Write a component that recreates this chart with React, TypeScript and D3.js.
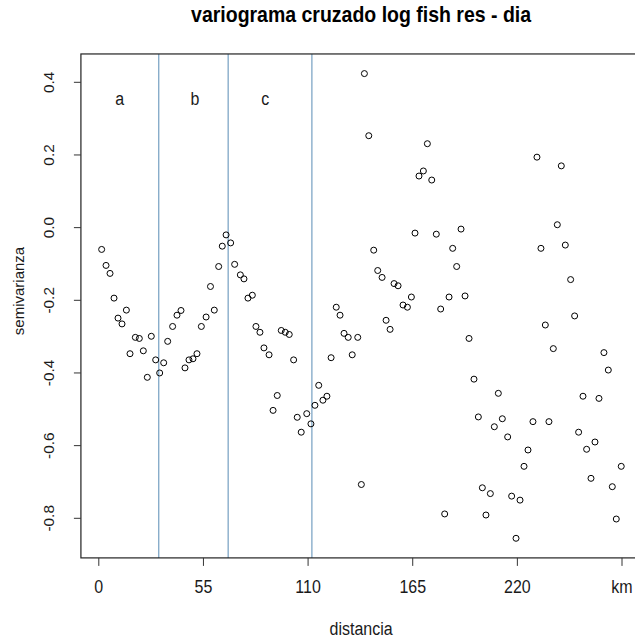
import React from "react";
import * as d3 from "d3";

const distances = [1.5, 3.8, 5.9, 8.0, 10.1, 12.2, 14.5, 16.4, 19.2, 21.3, 23.4, 25.5, 27.6, 29.9, 32.0, 34.1, 36.2, 38.8, 41.1, 43.2, 45.3, 47.4, 49.5, 51.6, 53.9, 56.4, 58.7, 60.7, 63.0, 64.9, 66.9, 69.3, 71.4, 74.4, 76.3, 78.4, 80.7, 82.6, 84.7, 86.8, 89.5, 91.6, 93.8, 95.9, 98.0, 100.1, 102.4, 104.3, 106.4, 109.3, 111.5, 113.6, 115.6, 117.8, 119.9, 122.1, 124.8, 126.8, 128.9, 131.1, 133.2, 136.1, 138.0, 139.6, 141.9, 144.5, 146.6, 148.9, 151.0, 153.1, 155.2, 157.3, 159.9, 162.2, 164.3, 166.2, 168.3, 170.6, 172.7, 175.0, 177.4, 179.7, 181.8, 184.1, 186.0, 188.1, 190.4, 192.5, 194.6, 197.2, 199.5, 201.6, 203.5, 205.8, 207.9, 210.0, 212.1, 214.9, 217.0, 219.3, 221.4, 223.5, 225.6, 228.2, 230.3, 232.4, 234.7, 236.6, 238.9, 241.0, 243.1, 245.2, 248.0, 250.1, 252.2, 254.5, 256.4, 258.7, 260.8, 262.9, 265.5, 267.8, 269.9, 272.0, 274.6];

const semivariance = [-0.060, -0.104, -0.126, -0.194, -0.249, -0.265, -0.227, -0.347, -0.302, -0.305, -0.339, -0.412, -0.299, -0.364, -0.400, -0.372, -0.313, -0.272, -0.241, -0.228, -0.386, -0.364, -0.361, -0.347, -0.272, -0.246, -0.162, -0.227, -0.107, -0.051, -0.020, -0.042, -0.101, -0.130, -0.141, -0.194, -0.186, -0.272, -0.288, -0.331, -0.350, -0.503, -0.462, -0.283, -0.288, -0.294, -0.364, -0.522, -0.563, -0.512, -0.540, -0.489, -0.434, -0.475, -0.464, -0.358, -0.219, -0.241, -0.291, -0.302, -0.350, -0.302, -0.707, 0.424, 0.253, -0.062, -0.118, -0.137, -0.255, -0.280, -0.154, -0.160, -0.213, -0.219, -0.191, -0.015, 0.142, 0.156, 0.231, 0.131, -0.018, -0.224, -0.788, -0.191, -0.057, -0.107, -0.004, -0.188, -0.305, -0.417, -0.521, -0.716, -0.791, -0.732, -0.548, -0.456, -0.526, -0.576, -0.739, -0.855, -0.750, -0.657, -0.612, -0.534, 0.194, -0.057, -0.268, -0.534, -0.333, 0.008, 0.170, -0.048, -0.143, -0.243, -0.563, -0.464, -0.610, -0.690, -0.590, -0.470, -0.344, -0.392, -0.713, -0.802, -0.657];

const xTicks = [0, 55, 110, 165, 220, 275];
const xTickLabels = ["0", "55", "110", "165", "220", "km"];
const yTicks = [-0.8, -0.6, -0.4, -0.2, 0.0, 0.2, 0.4];
const yTickLabels = ["-0.8", "-0.6", "-0.4", "-0.2", "0.0", "0.2", "0.4"];
const cutLines = [31.5, 68, 112];
const zoneLabels = ["a", "b", "c"];
const zoneLabelX = [11, 50.5, 87.5];
const zoneLabelY = 0.35;

const title = "variograma cruzado log fish res - dia";
const xTitle = "distancia";
const yTitle = "semivarianza";

export default function App() {
  const W = 635;
  const H = 638;
  const x = d3.scaleLinear().domain([0, 275]).range([98.8, 622]);
  const y = d3.scaleLinear().domain([-0.8, 0.4]).range([518.3, 82.3]);
  const left = x(-9.4);
  const right = x(285.1);
  const top = y(0.478);
  const bottom = y(-0.909);
  const font = "'Liberation Sans', Arial, sans-serif";
  const tc = "#1a1a1a";

  return (
    <svg
      width={W}
      height={H}
      style={{ position: "absolute", left: 0, top: 0, background: "#fff" }}
      fontFamily={font}
    >
      <rect x={0} y={0} width={W} height={H} fill="#fff" />
      {/* title */}
      <text
        transform={`translate(${(left + right) / 2},22.3) scale(1,1.1)`}
        textAnchor="middle"
        fontWeight="bold"
        fontSize={19.5}
        fill="#000"
      >
        {title}
      </text>

      {/* vertical cut lines */}
      {cutLines.map((d, i) => (
        <line key={"c" + i} x1={x(d)} x2={x(d)} y1={top} y2={bottom} stroke="#7fa6c6" strokeWidth={1.3} />
      ))}

      {/* zone labels */}
      {zoneLabels.map((s, i) => (
        <text
          key={"z" + i}
          transform={`translate(${x(zoneLabelX[i])},${y(zoneLabelY) + 5}) scale(1,1.1)`}
          textAnchor="middle"
          fontSize={16}
          fill={tc}
        >
          {s}
        </text>
      ))}

      {/* points */}
      {distances.map((d, i) => (
        <circle key={"p" + i} cx={x(d)} cy={y(semivariance[i])} r={3} fill="none" stroke="#000" strokeWidth={1} />
      ))}

      {/* box */}
      <rect x={left} y={top} width={right - left} height={bottom - top} fill="none" stroke="#222" strokeWidth={1.2} />

      {/* x axis */}
      {xTicks.map((t, i) => (
        <g key={"xt" + i}>
          <line x1={x(t)} x2={x(t)} y1={bottom} y2={bottom + 8} stroke="#333" />
          <text
            transform={`translate(${x(t)},593.3) scale(1,1.1)`}
            textAnchor="middle"
            fontSize={16}
            fill={tc}
          >
            {xTickLabels[i]}
          </text>
        </g>
      ))}
      <text
        transform={`translate(${(left + right) / 2},634.5) scale(1,1.1)`}
        textAnchor="middle"
        fontSize={16}
        fill={tc}
      >
        {xTitle}
      </text>

      {/* y axis */}
      {yTicks.map((t, i) => (
        <g key={"yt" + i}>
          <line x1={left - 7} x2={left} y1={y(t)} y2={y(t)} stroke="#333" />
          <text
            transform={`translate(53.5,${y(t)}) rotate(-90) scale(1.1,1)`}
            textAnchor="middle"
            fontSize={14}
            fill={tc}
          >
            {yTickLabels[i]}
          </text>
        </g>
      ))}
      <text
        transform={`translate(23.5,291) rotate(-90)`}
        textAnchor="middle"
        fontSize={15}
        fill={tc}
      >
        {yTitle}
      </text>
    </svg>
  );
}
